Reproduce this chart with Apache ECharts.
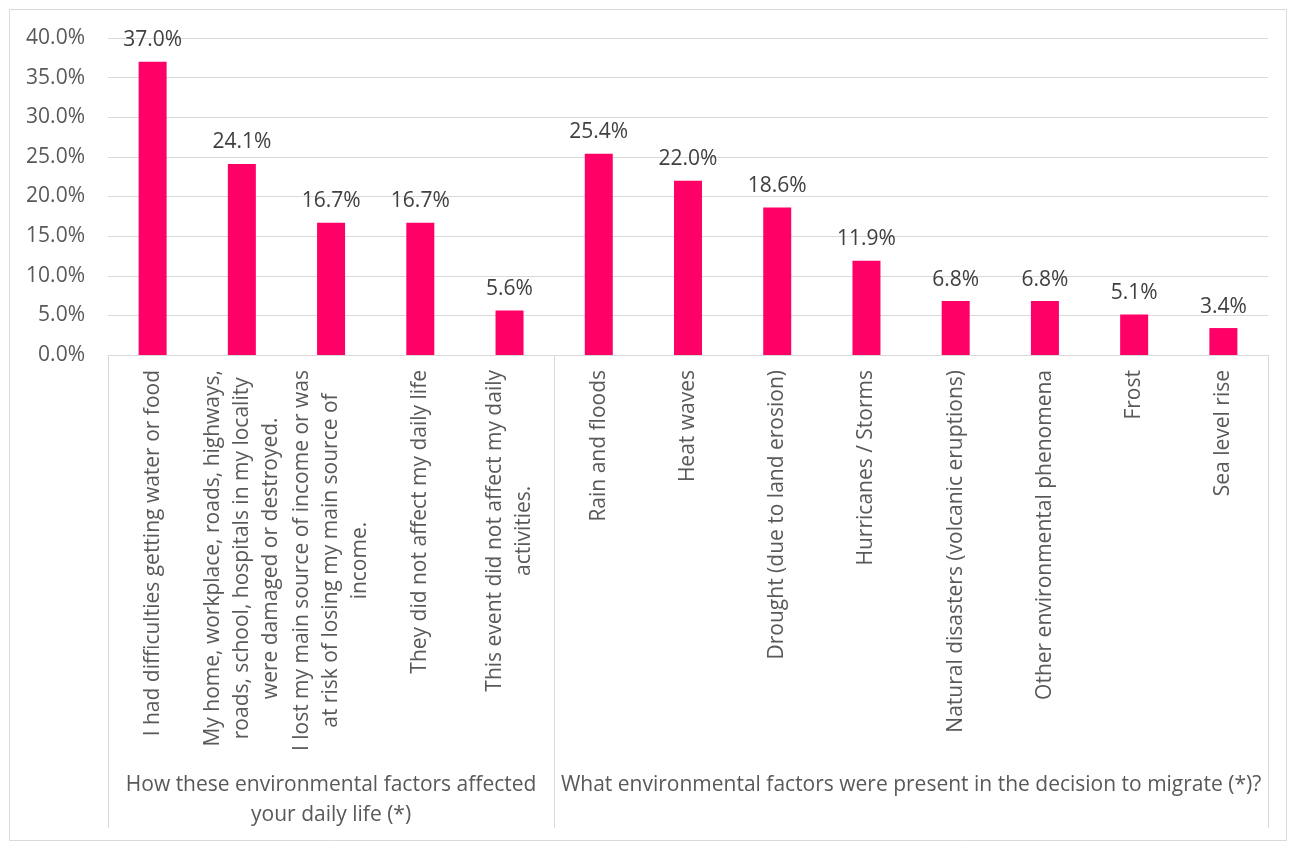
<!DOCTYPE html>
<html>
<head>
<meta charset="utf-8">
<script src="https://cdn.jsdelivr.net/npm/echarts@6/dist/echarts.min.js"></script>
<style>
html,body{margin:0;padding:0;background:#fff;}
#chart{width:1295px;height:849px;}
</style>
</head>
<body>
<div id="chart"></div>
<script>
var categories = [
  "I had difficulties getting water or food",
  "My home, workplace, roads, highways,\nroads, school, hospitals in my locality\nwere damaged or destroyed.",
  "I lost my main source of income or was\nat risk of losing my main source of\nincome.",
  "They did not affect my daily life",
  "This event did not affect my daily\nactivities.",
  "Rain and floods",
  "Heat waves",
  "Drought (due to land erosion)",
  "Hurricanes / Storms",
  "Natural disasters (volcanic eruptions)",
  "Other environmental phenomena",
  "Frost",
  "Sea level rise"
];
var values = [37.0, 24.1, 16.7, 16.7, 5.6, 25.4, 22.0, 18.6, 11.9, 6.8, 6.8, 5.1, 3.4];
var groupNames = [
  "How these environmental factors affected\nyour daily life (*)",
  "What environmental factors were present in the decision to migrate (*)?"
];
var groupSizes = [5, 8];

// half-category positions for group labels (boundaryGap false axis, 2 points per category)
var halfSlots = [];
for (var i = 0; i <= categories.length * 2; i++) halfSlots.push('');
var start = 0;
groupSizes.forEach(function (n, gi) {
  halfSlots[start * 2 + n] = groupNames[gi];
  start += n;
});
var groupStarts = [0];
(function(){ var s = 0; for (var k = 0; k < groupSizes.length - 1; k++) { s += groupSizes[k]; groupStarts.push(s); } })();

var FONT = 'Open Sans';
var FS = 21;
var chart = echarts.init(document.getElementById('chart'), null, {renderer: 'canvas'});
chart.setOption({
  backgroundColor: '#ffffff',
  animation: false,
  textStyle: {fontFamily: FONT},
  graphic: [{
    type: 'rect',
    shape: {x: 9.5, y: 9.5, width: 1277, height: 831},
    style: {fill: 'none', stroke: '#D9D9D9', lineWidth: 1},
    silent: true
  }],
  grid: {left: 108, right: 27, top: 38, bottom: 494},
  xAxis: [{
    type: 'category',
    data: categories,
    axisLine: {show: true, lineStyle: {color: '#D9D9D9', width: 1}},
    axisTick: {
      show: true,
      length: 473,
      interval: function (idx) { return groupStarts.indexOf(idx) >= 0; },
      lineStyle: {color: '#D9D9D9', width: 1}
    },
    axisLabel: {
      rotate: 90,
      interval: 0,
      margin: 15,
      color: '#595959',
      fontSize: FS,
      fontFamily: FONT,
      formatter: function (v) {
        return v.split('\n').map(function (l) { return '{c|' + l + '}'; }).join('\n');
      },
      rich: {c: {align: 'center', fontSize: FS, lineHeight: 29, color: '#595959', fontFamily: FONT}}
    },
    splitLine: {show: false}
  }, {
    type: 'category',
    position: 'bottom',
    offset: 408,
    boundaryGap: false,
    data: halfSlots,
    axisLine: {show: false},
    axisTick: {show: false},
    splitLine: {show: false},
    axisLabel: {
      interval: 0,
      margin: 7,
      color: '#595959',
      fontSize: FS,
      lineHeight: 30,
      fontFamily: FONT,
      align: 'center',
      verticalAlign: 'top',
      hideOverlap: false
    }
  }],
  yAxis: {
    type: 'value',
    min: 0,
    max: 40,
    interval: 5,
    axisLine: {show: false},
    axisTick: {show: false},
    splitLine: {lineStyle: {color: '#D9D9D9', width: 1}},
    axisLabel: {
      margin: 23,
      color: '#595959',
      fontSize: FS,
      fontFamily: FONT,
      formatter: function (v) { return v.toFixed(1) + '%'; }
    }
  },
  series: [{
    type: 'bar',
    data: values,
    barWidth: 28,
    itemStyle: {color: '#FF0066'},
    label: {
      show: true,
      position: 'top',
      distance: 11,
      color: '#404040',
      fontSize: FS,
      fontFamily: FONT,
      formatter: function (p) { return p.value.toFixed(1) + '%'; }
    }
  }]
});
</script>
</body>
</html>
